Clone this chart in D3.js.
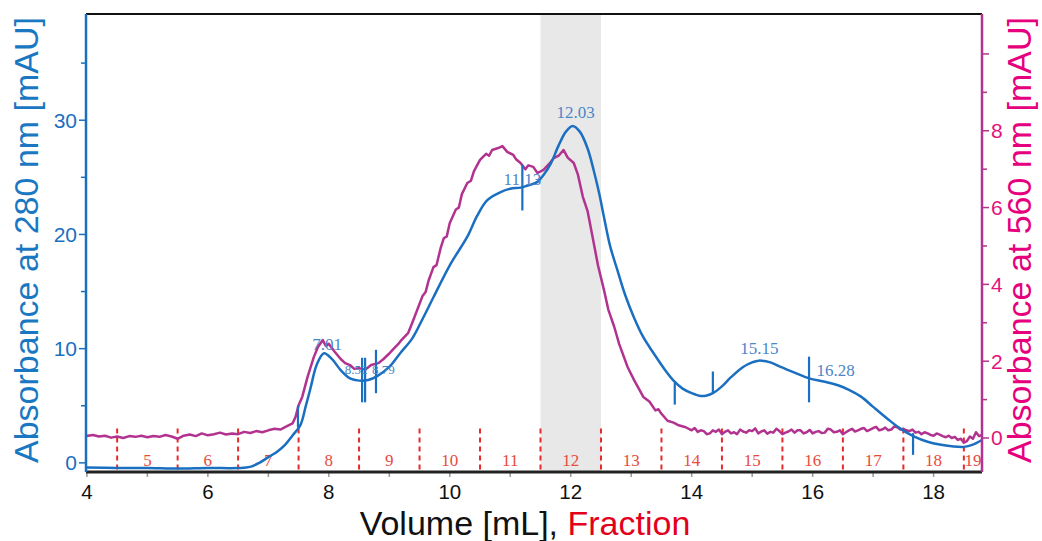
<!DOCTYPE html>
<html>
<head>
<meta charset="utf-8">
<style>
  body { margin: 0; background: #fff; }
  svg { display: block; }
  text { font-family: "Liberation Sans", Arial, sans-serif; }
  .serif { font-family: "Liberation Serif", "Times New Roman", serif; }
</style>
</head>
<body>
<div id="chart-area"></div>

<script src="https://cdn.jsdelivr.net/npm/d3@7"></script>
<script>
// absorbance at 280 nm, [volume mL, mAU]
const uv280 = [
  [3.99, -0.4], [4.5, -0.45], [5.0, -0.45], [5.5, -0.5], [6.0, -0.45], [6.5, -0.45],
  [6.7, -0.35], [6.85, 0.0], [7.0, 0.5], [7.15, 1.0], [7.28, 1.6], [7.4, 2.4],
  [7.53, 3.3], [7.62, 5.0], [7.7, 6.6], [7.8, 8.6], [7.92, 9.6], [8.05, 9.1],
  [8.2, 8.1], [8.35, 7.4], [8.5, 7.2], [8.65, 7.25], [8.8, 7.6], [9.0, 8.4],
  [9.18, 9.6], [9.38, 10.9], [9.55, 12.6], [9.73, 14.5], [10.0, 17.3], [10.29, 19.8],
  [10.45, 21.6], [10.62, 23.0], [10.84, 23.7], [11.0, 24.0], [11.17, 24.1], [11.3, 24.3],
  [11.45, 24.6], [11.55, 25.2], [11.67, 26.2], [11.8, 27.8], [11.92, 29.0], [12.03, 29.5],
  [12.15, 29.0], [12.28, 27.5], [12.38, 25.6], [12.47, 23.6], [12.55, 21.5], [12.65, 19.0],
  [12.77, 16.9], [12.9, 14.7], [13.04, 12.8], [13.2, 11.0], [13.37, 9.6], [13.55, 8.2],
  [13.7, 7.2], [13.85, 6.5], [14.0, 6.1], [14.15, 5.85], [14.25, 5.9], [14.35, 6.1],
  [14.5, 6.7], [14.65, 7.5], [14.85, 8.4], [15.0, 8.8], [15.11, 8.95], [15.3, 8.8],
  [15.47, 8.4], [15.7, 7.9], [15.94, 7.4], [16.2, 7.1], [16.42, 6.8], [16.6, 6.4],
  [16.8, 5.8], [17.0, 4.9], [17.25, 3.8], [17.45, 3.0], [17.68, 2.3], [17.9, 1.85],
  [18.1, 1.6], [18.3, 1.45], [18.5, 1.4], [18.65, 1.6], [18.8, 2.0]
];

// absorbance at 560 nm, [volume mL, mAU]
const vis560 = [
  [3.99, 0.05], [4.1, 0.08], [4.2, 0.04], [4.3, 0.06], [4.4, 0.01], [4.5, 0.04], [4.6, 0.0],
  [4.7, 0.05], [4.8, 0.03], [4.9, 0.06], [5.0, 0.02], [5.1, 0.05], [5.2, 0.03], [5.3, 0.08],
  [5.4, 0.04], [5.5, -0.02], [5.6, 0.06], [5.7, 0.09], [5.8, 0.05], [5.9, 0.12], [6.0, 0.07],
  [6.1, 0.1], [6.2, 0.14], [6.3, 0.09], [6.4, 0.12], [6.5, 0.1], [6.6, 0.16], [6.7, 0.13],
  [6.8, 0.18], [6.9, 0.15], [7.0, 0.2], [7.1, 0.24], [7.2, 0.22], [7.3, 0.3], [7.4, 0.38],
  [7.45, 0.55], [7.5, 0.85], [7.56, 1.07], [7.65, 1.6], [7.75, 2.1], [7.82, 2.37], [7.9, 2.55],
  [7.95, 2.4], [8.0, 2.45], [8.1, 2.24], [8.2, 2.05], [8.27, 1.95], [8.35, 1.9], [8.42, 1.8],
  [8.5, 1.82], [8.6, 1.78], [8.7, 1.9], [8.82, 1.95], [8.9, 2.05], [9.0, 2.2], [9.05, 2.29],
  [9.15, 2.45], [9.2, 2.55], [9.31, 2.73], [9.38, 3.0], [9.48, 3.41], [9.55, 3.7], [9.6, 3.8],
  [9.65, 4.1], [9.73, 4.45], [9.78, 4.5], [9.85, 4.95], [9.9, 5.2], [9.95, 5.25], [10.0, 5.6],
  [10.1, 5.95], [10.15, 6.0], [10.2, 6.35], [10.29, 6.64], [10.35, 6.7], [10.4, 6.95],
  [10.5, 7.24], [10.6, 7.4], [10.65, 7.35], [10.7, 7.5], [10.8, 7.55], [10.87, 7.6], [10.95, 7.45],
  [11.05, 7.37], [11.1, 7.25], [11.17, 7.16], [11.25, 7.0], [11.3, 7.1], [11.38, 7.06],
  [11.45, 6.9], [11.55, 6.98], [11.65, 7.15], [11.72, 7.29], [11.8, 7.35], [11.88, 7.5],
  [11.95, 7.3], [12.05, 7.16], [12.12, 6.85], [12.2, 6.28], [12.28, 5.9], [12.38, 5.08],
  [12.45, 4.5], [12.55, 3.85], [12.62, 3.35], [12.72, 2.89], [12.8, 2.45], [12.94, 1.85],
  [13.05, 1.5], [13.2, 1.07], [13.3, 0.95], [13.4, 0.72], [13.45, 0.75], [13.49, 0.65],
  [13.6, 0.45], [13.7, 0.4], [13.77, 0.34], [13.9, 0.28], [14.0, 0.2], [14.05, 0.26], [14.1, 0.16],
  [14.15, 0.2], [14.2, 0.18], [14.25, 0.1], [14.3, 0.12], [14.35, 0.2], [14.4, 0.16], [14.45, 0.22],
  [14.5, 0.1], [14.55, 0.16], [14.6, 0.2], [14.65, 0.12], [14.7, 0.15], [14.75, 0.1], [14.8, 0.22],
  [14.85, 0.17], [14.9, 0.14], [14.95, 0.2], [15.0, 0.18], [15.05, 0.25], [15.1, 0.12], [15.15, 0.17],
  [15.2, 0.2], [15.25, 0.11], [15.3, 0.16], [15.35, 0.14], [15.4, 0.24], [15.45, 0.18], [15.5, 0.1],
  [15.55, 0.14], [15.6, 0.17], [15.65, 0.22], [15.7, 0.14], [15.75, 0.2], [15.8, 0.2], [15.85, 0.12],
  [15.9, 0.15], [15.95, 0.21], [16.0, 0.12], [16.05, 0.16], [16.1, 0.18], [16.15, 0.13], [16.2, 0.14],
  [16.25, 0.24], [16.3, 0.22], [16.35, 0.15], [16.4, 0.16], [16.45, 0.2], [16.5, 0.1], [16.55, 0.15],
  [16.6, 0.2], [16.65, 0.24], [16.7, 0.17], [16.75, 0.2], [16.8, 0.24], [16.85, 0.26], [16.9, 0.18],
  [16.95, 0.22], [17.0, 0.26], [17.05, 0.29], [17.1, 0.2], [17.15, 0.22], [17.2, 0.27], [17.25, 0.2],
  [17.3, 0.22], [17.35, 0.3], [17.4, 0.28], [17.45, 0.22], [17.5, 0.24], [17.55, 0.2], [17.6, 0.18],
  [17.65, 0.22], [17.7, 0.14], [17.75, 0.16], [17.8, 0.1], [17.85, 0.15], [17.9, 0.12], [17.95, 0.08],
  [18.0, 0.06], [18.05, 0.12], [18.1, 0.09], [18.15, 0.05], [18.2, 0.02], [18.25, 0.06], [18.3, 0.0],
  [18.35, 0.03], [18.4, -0.05], [18.45, -0.02], [18.5, -0.12], [18.55, -0.08], [18.6, 0.04],
  [18.65, -0.02], [18.7, 0.15], [18.75, 0.05], [18.8, 0.08]
];

const xTicks = [4, 6, 8, 10, 12, 14, 16, 18];
const leftTicks = [0, 10, 20, 30];
const rightTicks = [0, 2, 4, 6, 8];

const fractionEdges = [4.5, 5.5, 6.5, 7.5, 8.5, 9.5, 10.5, 11.5, 12.5, 13.5, 14.5, 15.5, 16.5, 17.5, 18.5];
const fractionNames = ["5", "6", "7", "8", "9", "10", "11", "12", "13", "14", "15", "16", "17", "18", "19"];
const fractionCenters = [5, 6, 7, 8, 9, 10, 11, 12, 13, 14, 15, 16, 17, 18, 18.65];
const selectedFraction = [11.5, 12.5];

// peak marks on the 280 nm trace: volume, top, bottom (mAU)
const markVol = [7.49, 8.55, 8.6, 8.78, 11.2, 13.72, 14.35, 15.94, 17.66];
const markTop = [5.0, 9.2, 9.2, 9.9, 26.1, 7.0, 8.0, 9.3, 2.6];
const markBottom = [3.1, 5.3, 5.3, 6.1, 22.1, 5.1, 6.1, 5.3, 0.7];

const peakText = ["7.01", "8.52", "8.79", "11.13", "12.03", "15.15", "16.28"];
const peakVol = [7.97, 8.45, 8.9, 11.2, 12.08, 15.12, 16.38];
const peakAbs = [9.9, 7.8, 7.8, 24.3, 30.2, 9.5, 7.6];
const peakSize = [17, 13, 13, 17, 17, 17, 17];

const width = 1042, height = 541;
const margin = {left: 86, right: 60, top: 14, bottom: 69};

const svg = d3.select("#chart-area").append("svg")
    .attr("width", width)
    .attr("height", height);

const x = d3.scaleLinear().domain([3.985, 18.8]).range([margin.left, width - margin.right]);
const yL = d3.scaleLinear().domain([-0.8, 39.3]).range([height - margin.bottom, margin.top]);
const yR = d3.scaleLinear().domain([-0.885, 11.04]).range([height - margin.bottom, margin.top]);

const blue = "#1b6fc1", magenta = "#b2338f", pink = "#e5127d", red = "#e62a2a";
const bottomY = height - margin.bottom;

// selected fraction band
svg.append("rect")
    .attr("x", x(selectedFraction[0]))
    .attr("y", margin.top)
    .attr("width", x(selectedFraction[1]) - x(selectedFraction[0]))
    .attr("height", bottomY - margin.top)
    .attr("fill", "#e8e8e8");

// fraction dividers
svg.selectAll(".frac")
  .data(fractionEdges)
  .join("line")
    .attr("x1", d => x(d)).attr("x2", d => x(d))
    .attr("y1", yR(0.25)).attr("y2", bottomY)
    .attr("stroke", red)
    .attr("stroke-width", 2)
    .attr("stroke-dasharray", "5,4");

svg.selectAll(".fracLabel")
  .data(fractionNames)
  .join("text")
    .attr("class", "serif")
    .attr("x", (d, i) => x(fractionCenters[i]))
    .attr("y", bottomY - 6)
    .attr("text-anchor", "middle")
    .attr("font-size", 17)
    .attr("fill", "#e84a3c")
    .text(d => d);

// traces
const line560 = d3.line().x(d => x(d[0])).y(d => yR(d[1]));
const line280 = d3.line().x(d => x(d[0])).y(d => yL(d[1])).curve(d3.curveCatmullRom);

svg.append("path")
    .attr("d", line560(vis560))
    .attr("fill", "none")
    .attr("stroke", magenta)
    .attr("stroke-width", 2.5)
    .attr("stroke-linejoin", "round");

svg.append("path")
    .attr("d", line280(uv280))
    .attr("fill", "none")
    .attr("stroke", blue)
    .attr("stroke-width", 2.5);

svg.selectAll(".mark")
  .data(markVol)
  .join("line")
    .attr("x1", d => x(d)).attr("x2", d => x(d))
    .attr("y1", (d, i) => yL(markTop[i]))
    .attr("y2", (d, i) => yL(markBottom[i]))
    .attr("stroke", blue)
    .attr("stroke-width", 2.2);

svg.selectAll(".peak")
  .data(peakText)
  .join("text")
    .attr("class", "serif")
    .attr("x", (d, i) => x(peakVol[i]))
    .attr("y", (d, i) => yL(peakAbs[i]))
    .attr("text-anchor", "middle")
    .attr("font-size", (d, i) => peakSize[i])
    .attr("fill", "#4a86c9")
    .text(d => d);

// frame
svg.append("line")
    .attr("x1", margin.left).attr("x2", width - margin.right)
    .attr("y1", margin.top).attr("y2", margin.top)
    .attr("stroke", "#111").attr("stroke-width", 2);

// x axis
const xAxis = svg.append("g").attr("transform", `translate(0,${bottomY})`);
xAxis.selectAll(".minor")
  .data(d3.range(4, 19))
  .join("line")
    .attr("x1", d => x(d)).attr("x2", d => x(d))
    .attr("y1", 0).attr("y2", 5)
    .attr("stroke", "#999").attr("stroke-width", 1.5);
xAxis.append("line")
    .attr("x1", margin.left).attr("x2", width - margin.right)
    .attr("stroke", "#222").attr("stroke-width", 3);
xAxis.selectAll(".tl")
  .data(xTicks)
  .join("text")
    .attr("x", d => x(d))
    .attr("y", 27)
    .attr("text-anchor", "middle")
    .attr("font-size", 20.5)
    .attr("fill", "#111")
    .text(d => d);

// left axis
const left = svg.append("g").attr("transform", `translate(${margin.left},0)`);
left.selectAll(".tk")
  .data(d3.range(0, 40, 5))
  .join("line")
    .attr("x1", d => d % 10 === 0 ? -7 : -5).attr("x2", 0)
    .attr("y1", d => yL(d)).attr("y2", d => yL(d))
    .attr("stroke", blue).attr("stroke-width", 1.5);
left.append("line")
    .attr("y1", margin.top).attr("y2", bottomY)
    .attr("stroke", blue).attr("stroke-width", 2.5);
left.selectAll(".tl")
  .data(leftTicks)
  .join("text")
    .attr("x", -9)
    .attr("y", d => yL(d))
    .attr("dy", "0.35em")
    .attr("text-anchor", "end")
    .attr("font-size", 21)
    .attr("fill", blue)
    .text(d => d);

// right axis
const right = svg.append("g").attr("transform", `translate(${width - margin.right},0)`);
right.selectAll(".tk")
  .data(d3.range(0, 11))
  .join("line")
    .attr("x1", 0).attr("x2", d => d % 2 === 0 ? 7 : 5)
    .attr("y1", d => yR(d)).attr("y2", d => yR(d))
    .attr("stroke", magenta).attr("stroke-width", 1.5);
right.append("line")
    .attr("y1", margin.top).attr("y2", bottomY)
    .attr("stroke", magenta).attr("stroke-width", 2.5);
right.selectAll(".tl")
  .data(rightTicks)
  .join("text")
    .attr("x", 9)
    .attr("y", d => yR(d))
    .attr("dy", "0.35em")
    .attr("font-size", 21)
    .attr("fill", pink)
    .text(d => d);

// titles
svg.append("text")
    .attr("transform", "translate(38,240) rotate(-90)")
    .attr("text-anchor", "middle")
    .attr("font-size", 34)
    .attr("fill", "#1a78c2")
    .text("Absorbance at 280 nm [mAU]");

svg.append("text")
    .attr("transform", "translate(1031,240) rotate(-90)")
    .attr("text-anchor", "middle")
    .attr("font-size", 34)
    .attr("fill", "#e6007e")
    .text("Absorbance at 560 nm [mAU]");

const xt = svg.append("text")
    .attr("x", 525)
    .attr("y", 535)
    .attr("text-anchor", "middle")
    .attr("font-size", 34);
xt.append("tspan").attr("fill", "#111").text("Volume [mL], ");
xt.append("tspan").attr("fill", "#e3001b").text("Fraction");
</script>
</body>
</html>
